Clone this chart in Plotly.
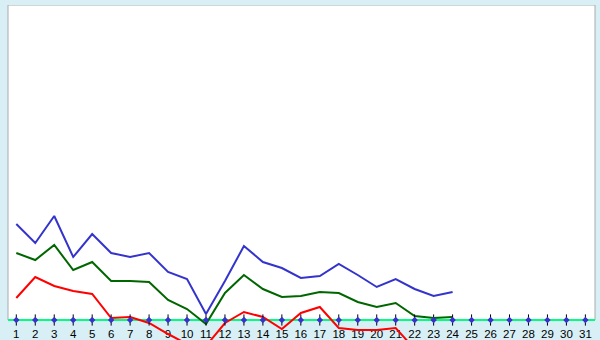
import plotly.graph_objects as go

days = list(range(1, 32))
day_labels = [str(d) for d in days]

series_days = list(range(1, 25))
blue_vals = [96, 77, 104, 63, 86, 67, 63, 67, 48, 41, 6, 39, 74, 58, 52, 42, 44, 56, 45, 33, 41, 31, 24, 28]
green_vals = [67, 60, 75, 50, 58, 39, 39, 38, 20, 11, -4, 27, 45, 31, 23, 24, 28, 27, 18, 13, 17, 4, 2, 3]
red_vals = [22, 43, 34, 29, 26, 2, 3, -3, -14, -24, -26, -3, 8, 3, -9, 7, 13, -8, -10, -10, -8, -29, -40, -38]
zero_vals = [0] * len(days)

BG = "#d8eff6"

fig = go.Figure()

for vals, col in [(blue_vals, "#3434cc"), (green_vals, "#006600"), (red_vals, "#ff0000")]:
    fig.add_trace(go.Scatter(x=series_days, y=vals, mode="lines",
                             line=dict(color=col, width=2), hoverinfo="skip"))

# tick glyphs on zero line
fig.add_trace(go.Scatter(x=days, y=zero_vals, mode="markers", cliponaxis=False,
                         marker=dict(symbol="line-ns", size=8,
                                     line=dict(color="black", width=1)),
                         hoverinfo="skip"))
fig.add_trace(go.Scatter(x=days, y=zero_vals, mode="markers", cliponaxis=False,
                         marker=dict(symbol="diamond", size=5, color="#3434cc"),
                         hoverinfo="skip"))

fig.add_shape(type="rect", xref="paper", yref="y", x0=0, x1=1, y0=0, y1=315,
              fillcolor="white", line=dict(color="#aaaaaa", width=1), layer="below")

fig.update_layout(
    width=600, height=340,
    margin=dict(l=8, r=5, t=5, b=0, autoexpand=False),
    paper_bgcolor=BG, plot_bgcolor=BG,
    showlegend=False,
    font=dict(family="Liberation Sans", size=11.5, color="black"),
    xaxis=dict(range=[0.5625, 31.507], tickmode="array", tickvals=days, ticktext=day_labels,
               showgrid=False, zeroline=False, anchor="free", position=20 / 335,
               showline=True, linecolor="#00ff80", linewidth=2, layer="below traces",
               ticks="", ticklen=0, ticklabelstandoff=3, fixedrange=True, automargin=False),
    yaxis=dict(range=[-20, 315], showgrid=False, zeroline=False, showticklabels=False,
               ticks="", showline=False, fixedrange=True, automargin=False),
)

fig.write_html("out.html")
